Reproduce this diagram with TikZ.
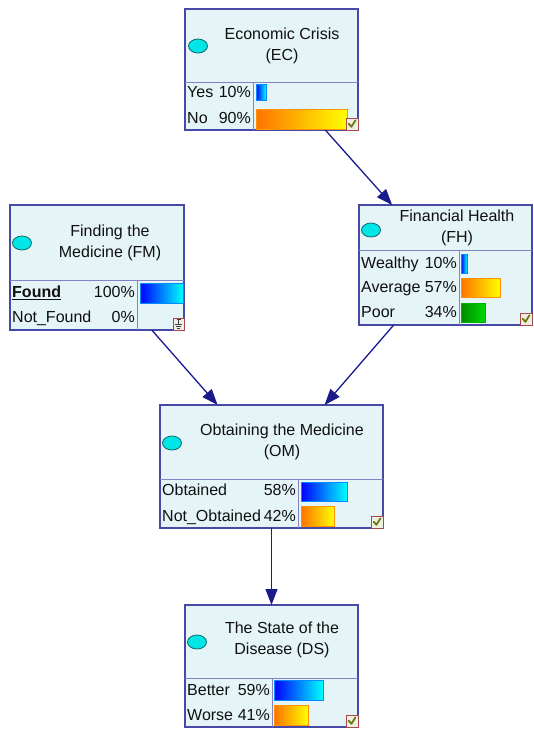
\documentclass[tikz,border=0pt]{standalone}
\usepackage{fontspec}
\setmainfont{Liberation Sans}
\usetikzlibrary{arrows.meta,shapes.geometric}

\definecolor{boxline}{HTML}{4848A6}
\definecolor{boxfill}{HTML}{E4F4F7}
\definecolor{divline}{HTML}{8484C4}
\definecolor{edgecol}{HTML}{1A1A8C}
\definecolor{txt}{HTML}{101010}
\definecolor{markfill}{HTML}{00E6E6}
\definecolor{markline}{HTML}{0E6A6A}
\definecolor{iconline}{HTML}{A84848}
\definecolor{iconfill}{HTML}{EDEFE4}
\definecolor{tick}{HTML}{6E7A08}

\tikzset{
  netbox/.style={rectangle, draw=boxline, fill=boxfill, line width=1.1pt,
    inner sep=0pt, outer sep=0pt},
  divider/.style={draw=divline, line width=0.9pt},
  titletext/.style={align=center, inner sep=0pt, text=txt,
    font=\fontsize{16}{21}\selectfont},
  statelbl/.style={anchor=west, inner sep=0pt, text=txt, text height=11.5pt,
    text depth=0pt, font=\fontsize{16}{21}\selectfont},
  pctlbl/.style={statelbl, anchor=east},
  marker/.style={ellipse, draw=markline, fill=markfill, line width=0.8pt,
    minimum width=19pt, minimum height=14pt, inner sep=0pt},
  bluebar/.style={left color=blue!100, right color=cyan, draw=blue!45!cyan,
    line width=0.6pt},
  orangebar/.style={left color=orange!90!red, right color=yellow, draw=orange!85!yellow,
    line width=0.6pt},
  greenbar/.style={left color=green!55!black, right color=green!85!black,
    draw=green!70!black, line width=0.6pt},
  link/.style={draw=edgecol, line width=1.3pt,
    -{Triangle[length=16pt,width=12pt]}},
  okicon/.pic={
    \draw[draw=iconline, fill=iconfill, line width=0.8pt] (-12,-12) rectangle (0,0);
    \draw[tick, line width=1.8pt, line cap=round, line join=round]
      (-9.2,-6.2) -- (-6.6,-3.2) -- (-2.6,-9.6);
  },
  groundicon/.pic={
    \draw[draw=iconline, fill=iconfill, line width=0.8pt] (-11,-12) rectangle (0,0);
    \draw[black!75, line width=0.7pt]
      (-7.5,-10.5) -- (-3.5,-10.5)
      (-5.5,-10.5) -- (-5.5,-6)
      (-9,-6) -- (-2,-6)
      (-8,-4) -- (-3,-4)
      (-7,-2) -- (-4,-2);
  }
}

\begin{document}
\begin{tikzpicture}[x=1pt, y=-1pt]
\useasboundingbox (0,0) rectangle (534,729);

% ---------- Economic Crisis ----------
\node[netbox, minimum width=173pt, minimum height=121pt] (EC) at (271.5,69.5) {};
\draw[divider] (185,82) -- (358,82) (253,82) -- (253,130);
\node[marker] (ECm) at (198,46) {};
\node[titletext] (ECt) at (282,45.5) {Economic Crisis\\(EC)};
\node[statelbl] (ECs1) at (187,92) {Yes};
\node[pctlbl] (ECp1) at (251,92) {10\%};
\node[statelbl] (ECs2) at (187,118) {No};
\node[pctlbl] (ECp2) at (251,118) {90\%};
\path[bluebar] (256,84) rectangle (266,100);
\path[orangebar] (256,109) rectangle (347,129);
\pic at (EC.south east) {okicon};

% ---------- Finding the Medicine ----------
\node[netbox, minimum width=174pt, minimum height=125pt] (FM) at (97,267.5) {};
\draw[divider] (10,280) -- (184,280) (137,280) -- (137,330);
\node[marker] (FMm) at (22,243) {};
\node[titletext] (FMt) at (110,243) {Finding the\\Medicine (FM)};
\node[statelbl] (FMs1) at (12,292) {\underline{\textbf{Found}}};
\node[pctlbl] (FMp1) at (135,292) {100\%};
\node[statelbl] (FMs2) at (12,317) {Not\_Found};
\node[pctlbl] (FMp2) at (135,317) {0\%};
\path[bluebar] (140,283) rectangle (183,303);
\pic at (FM.south east) {groundicon};

% ---------- Financial Health ----------
\node[netbox, minimum width=173pt, minimum height=120pt] (FH) at (445.5,265) {};
\draw[divider] (359,250) -- (532,250) (459,250) -- (459,325);
\node[marker] (FHm) at (371,230) {};
\node[titletext] (FHt) at (457,227.5) {Financial Health\\(FH)};
\node[statelbl] (FHs1) at (361,263) {Wealthy};
\node[pctlbl] (FHp1) at (457,263) {10\%};
\node[statelbl] (FHs2) at (361,287) {Average};
\node[pctlbl] (FHp2) at (457,287) {57\%};
\node[statelbl] (FHs3) at (361,312) {Poor};
\node[pctlbl] (FHp3) at (457,312) {34\%};
\path[bluebar] (461,254) rectangle (467,273);
\path[orangebar] (461,278) rectangle (500,297);
\path[greenbar] (461,303) rectangle (485,322);
\pic at (FH.south east) {okicon};

% ---------- Obtaining the Medicine ----------
\node[netbox, minimum width=223pt, minimum height=123pt] (OM) at (271.5,466.5) {};
\draw[divider] (160,479) -- (383,479) (298,479) -- (298,528);
\node[marker] (OMm) at (172,443) {};
\node[titletext] (OMt) at (282,442) {Obtaining the Medicine\\(OM)};
\node[statelbl] (OMs1) at (162,490) {Obtained};
\node[pctlbl] (OMp1) at (296,490) {58\%};
\node[statelbl] (OMs2) at (162,516) {Not\_Obtained};
\node[pctlbl] (OMp2) at (296,516) {42\%};
\path[bluebar] (301,482) rectangle (347,501);
\path[orangebar] (301,506) rectangle (334,526);
\pic at (OM.south east) {okicon};

% ---------- The State of the Disease ----------
\node[netbox, minimum width=173pt, minimum height=122pt] (DS) at (271.5,666) {};
\draw[divider] (185,678) -- (358,678) (272,678) -- (272,727);
\node[marker] (DSm) at (197,642) {};
\node[titletext] (DSt) at (282,640) {The State of the\\Disease (DS)};
\node[statelbl] (DSs1) at (187,690) {Better};
\node[pctlbl] (DSp1) at (270,690) {59\%};
\node[statelbl] (DSs2) at (187,715) {Worse};
\node[pctlbl] (DSp2) at (270,715) {41\%};
\path[bluebar] (274,680) rectangle (323,700);
\path[orangebar] (274,705) rectangle (308,725);
\pic at (DS.south east) {okicon};

% ---------- dependencies ----------
\draw[link] (EC) -- (FH);
\draw[link] (FM) -- (OM);
\draw[link] (FH) -- (OM);
\draw[link] (OM) -- (DS);
\end{tikzpicture}
\end{document}
